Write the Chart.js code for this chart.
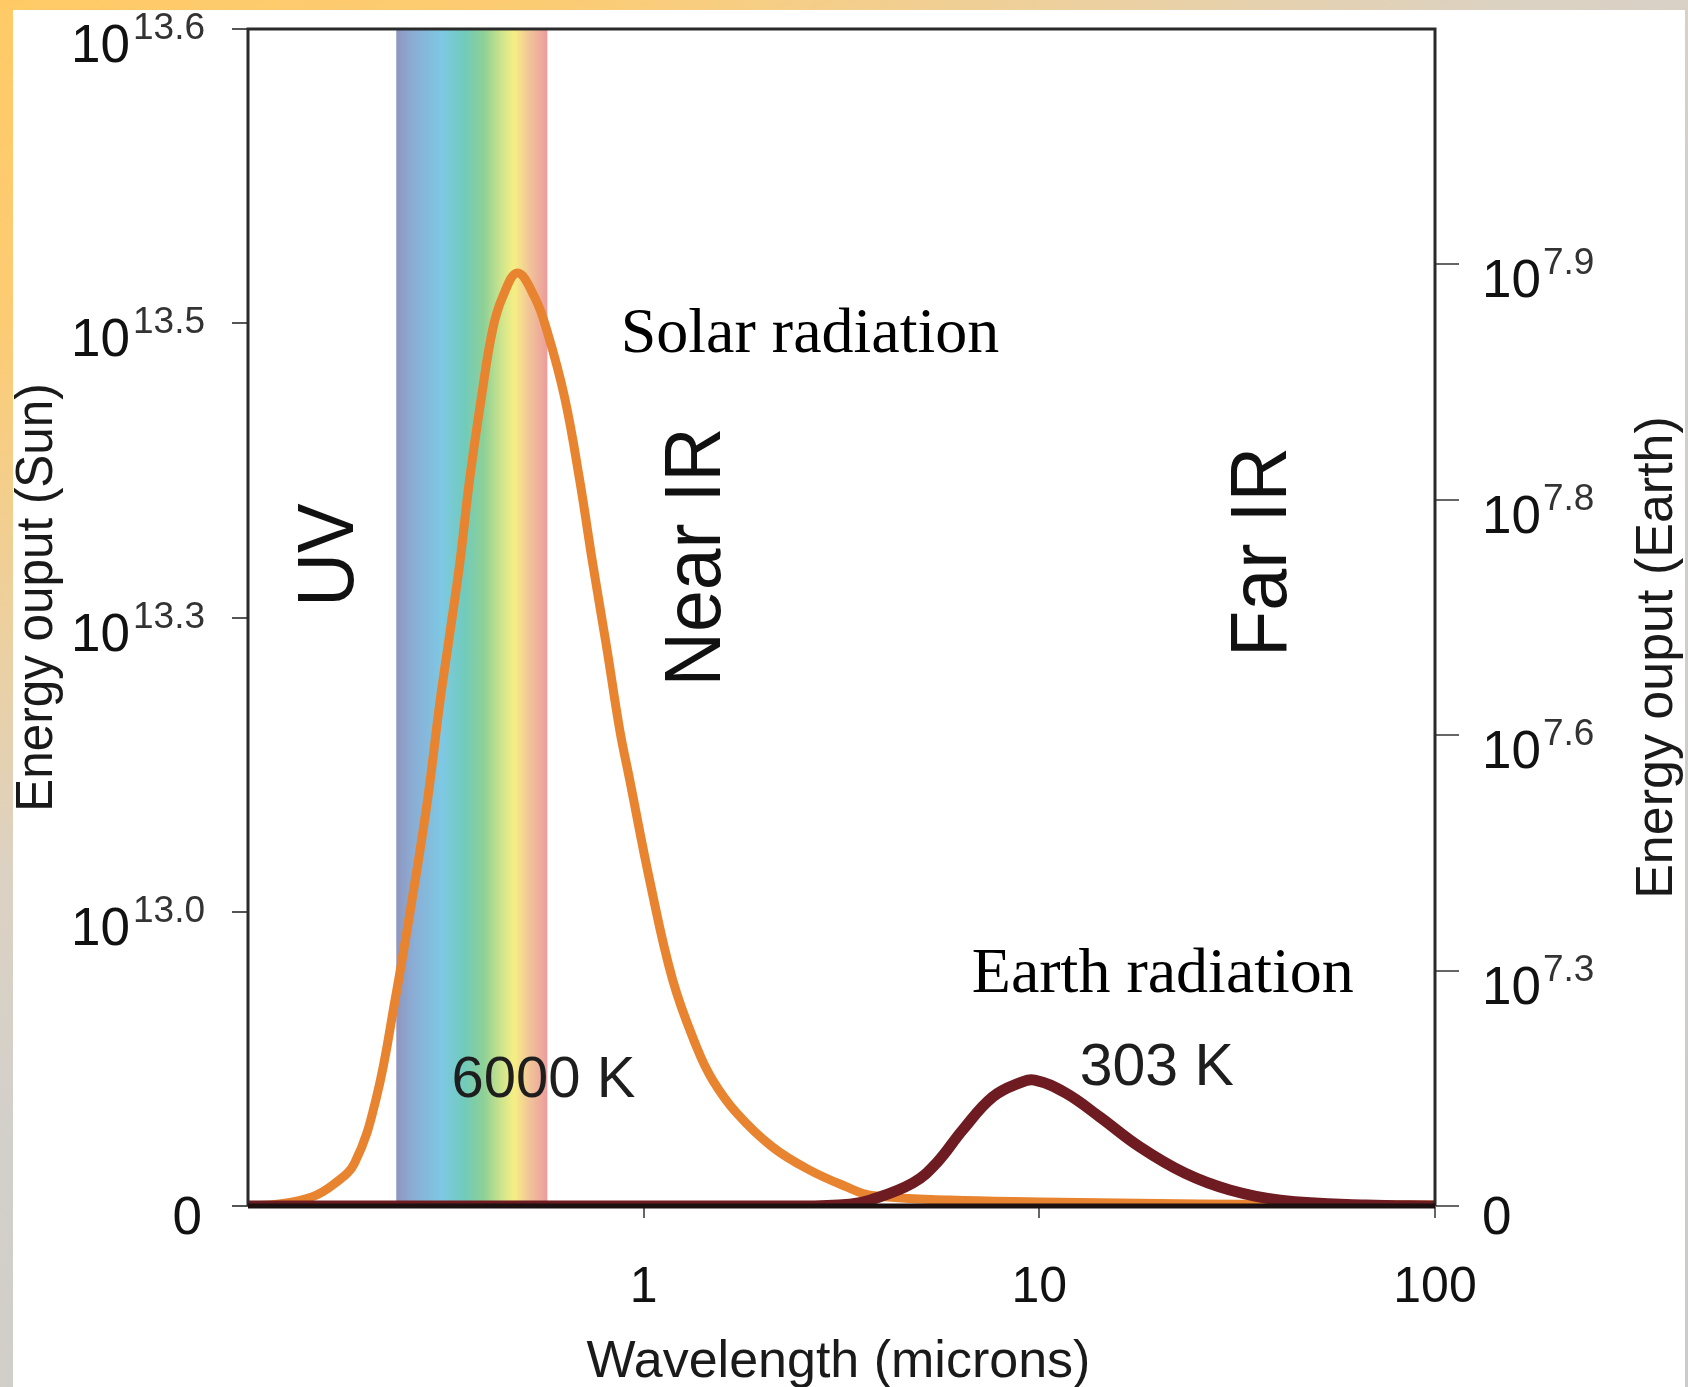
<!DOCTYPE html>
<html>
<head>
<meta charset="utf-8">
<script src="https://cdn.jsdelivr.net/npm/chart.js@4/dist/chart.umd.min.js"></script>
<style>
html,body{margin:0;padding:0;}
body{width:1688px;height:1387px;overflow:hidden;position:relative;
  background:linear-gradient(150deg,#ffca66 0%,#fccc74 14%,#ecd0a0 27%,#dcd2c2 37%,#d3cfca 48%,#cdcbc9 100%);}
#panel{position:absolute;left:13px;top:10px;width:1672px;height:1377px;background:#fff;overflow:hidden;}
canvas{display:block;}
</style>
</head>
<body>
<div id="panel"><canvas id="c" width="1672" height="1377"></canvas></div>
<script>
// ---- data (wavelength in microns, output in axis step units) ----
const wavelengthsSun = [0.1, 0.12, 0.145, 0.165, 0.186, 0.211, 0.236, 0.259, 0.284, 0.306, 0.32, 0.343, 0.363, 0.389, 0.415, 0.44, 0.48, 0.53, 0.569, 0.631, 0.689, 0.743, 0.806, 0.87, 0.922, 1.035, 1.184, 1.361, 1.494, 1.718, 2.118, 2.628, 3.26, 3.73, 5.94, 10, 25.4, 100];
const sunOutput      = [0, 0.007, 0.031, 0.075, 0.146, 0.367, 0.71, 1.03, 1.376, 1.72, 1.9, 2.185, 2.467, 2.749, 2.977, 3.089, 3.171, 3.089, 2.977, 2.749, 2.467, 2.185, 1.9, 1.618, 1.448, 1.108, 0.768, 0.54, 0.428, 0.316, 0.2, 0.122, 0.065, 0.037, 0.02, 0.014, 0.007, 0.003];
const wavelengthsEarth = [0.1, 2.5, 3.32, 3.73, 4.79, 5.5, 6.4, 7.62, 8.92, 9.73, 11.66, 14.22, 17.94, 23.3, 30.3, 40.7, 66.8, 100];
const earthOutput      = [0, 0, 0.008, 0.025, 0.098, 0.183, 0.323, 0.463, 0.523, 0.535, 0.48, 0.378, 0.251, 0.14, 0.068, 0.025, 0.004, 0];
const visibleBand = [0.237, 0.571];
const sunTickExponents = ['', '13.0', '13.3', '13.5', '13.6'];
const earthTickExponents = ['', '7.3', '7.6', '7.8', '7.9'];
const xTickValues = [1, 10, 100];
const xTickLabels = ['1', '10', '100'];

const SANS = '"Liberation Sans", Arial, Helvetica, sans-serif';
const SERIF = '"Liberation Serif", "Times New Roman", serif';

const annotations = [
  {text:'Solar radiation', x:0.875, y:2.902, font:'64px ' + SERIF, color:'#000', align:'left'},
  {text:'Earth radiation', x:6.75, y:0.727, font:'64px ' + SERIF, color:'#000', align:'left'},
  {text:'6000 K', x:0.327, y:0.370, font:'58px ' + SANS, color:'#1e1e1e', align:'left'},
  {text:'303 K', x:12.65, y:0.411, font:'59px ' + SANS, color:'#1e1e1e', align:'left'},
  {text:'UV', x:0.1838, y:2.212, font:'80px ' + SANS, color:'#111', align:'center', rotate:true, s:0.93},
  {text:'Near IR', x:1.556, y:2.206, font:'80px ' + SANS, color:'#111', align:'center', rotate:true, s:0.94},
  {text:'Far IR', x:41.97, y:2.223, font:'80px ' + SANS, color:'#111', align:'center', rotate:true, s:0.945}
];

function txt(ctx, s, px, py, o) {
  ctx.save();
  ctx.translate(px, py);
  if (o.rotate) ctx.rotate(-Math.PI / 2);
  ctx.scale(o.sx || 1, 1);
  ctx.font = o.font;
  ctx.fillStyle = o.color || '#111';
  ctx.textAlign = o.align || 'left';
  ctx.textBaseline = 'alphabetic';
  ctx.fillText(s, 0, 0);
  ctx.restore();
}

const bandPlugin = {
  id: 'band',
  beforeDatasetsDraw(chart) {
    const {ctx, chartArea: a, scales: {x}} = chart;
    const x0 = x.getPixelForValue(visibleBand[0]);
    const x1 = x.getPixelForValue(visibleBand[1]);
    const g = ctx.createLinearGradient(x0, 0, x1, 0);
    g.addColorStop(0.00, '#8f96c0');
    g.addColorStop(0.12, '#8aaed6');
    g.addColorStop(0.30, '#7ec8e4');
    g.addColorStop(0.45, '#70cbbc');
    g.addColorStop(0.58, '#8ed096');
    g.addColorStop(0.70, '#d0e58c');
    g.addColorStop(0.78, '#f6ef84');
    g.addColorStop(0.88, '#f1c598');
    g.addColorStop(1.00, '#ec9c9c');
    ctx.save();
    ctx.fillStyle = g;
    ctx.fillRect(x0, a.top, x1 - x0, a.bottom - a.top);
    ctx.restore();
  }
};

const framePlugin = {
  id: 'frame',
  afterDatasetsDraw(chart) {
    const {ctx, chartArea: a, scales: {y}} = chart;
    ctx.save();
    ctx.strokeStyle = '#2a2a2a';
    ctx.lineWidth = 3;
    ctx.beginPath();
    ctx.moveTo(a.left, a.bottom);
    ctx.lineTo(a.left, a.top);
    ctx.lineTo(a.right, a.top);
    ctx.lineTo(a.right, a.bottom);
    ctx.stroke();
    const y0 = y.getPixelForValue(0);
    ctx.strokeStyle = '#1c1010';
    ctx.lineWidth = 5;
    ctx.beginPath();
    ctx.moveTo(a.left, y0);
    ctx.lineTo(a.right, y0);
    ctx.stroke();
    ctx.restore();
  }
};

const labelPlugin = {
  id: 'labels',
  afterDraw(chart) {
    const {ctx, chartArea: a, scales: {x, y, y2}} = chart;
    const baseFont = '53px ' + SANS, supFont = '37px ' + SANS;
    // left axis tick labels
    sunTickExponents.forEach((e, i) => {
      const ty = y.getPixelForValue(i);
      if (!e) { txt(ctx, '0', a.left - 46, ty + 28, {font: baseFont, align: 'right'}); return; }
      ctx.font = supFont;
      const sw = ctx.measureText(e).width;
      const xEnd = a.left - 43;
      txt(ctx, e, xEnd - sw, ty + 10, {font: supFont, align: 'left', color: '#333'});
      txt(ctx, '10', xEnd - sw - 3, ty + 33, {font: baseFont, align: 'right'});
    });
    // right axis tick labels
    earthTickExponents.forEach((e, i) => {
      const ty = y2.getPixelForValue(i);
      const x0 = a.right + 47;
      if (!e) { txt(ctx, '0', x0, ty + 28, {font: baseFont, align: 'left'}); return; }
      ctx.font = baseFont;
      const bw = ctx.measureText('10').width;
      txt(ctx, '10', x0, ty + 33, {font: baseFont, align: 'left'});
      txt(ctx, e, x0 + bw + 2, ty + 10, {font: supFont, align: 'left', color: '#333'});
    });
    // x tick labels
    xTickValues.forEach((v, i) => {
      txt(ctx, xTickLabels[i], x.getPixelForValue(v), a.bottom + 96, {font: '50px ' + SANS, align: 'center'});
    });
    // axis titles
    txt(ctx, 'Wavelength (microns)', (a.left + a.right) / 2 - 3, a.bottom + 171, {font: '52px ' + SANS, align: 'center', color: '#1a1a1a'});
    txt(ctx, 'Energy ouput (Sun)', a.left - 196, (a.top + a.bottom) / 2 - 20, {font: '52px ' + SANS, align: 'center', rotate: true, sx: 0.95, color: '#1a1a1a'});
    txt(ctx, 'Energy ouput (Earth)', a.right + 237, (a.top + a.bottom) / 2 + 40, {font: '52px ' + SANS, align: 'center', rotate: true, color: '#1a1a1a'});
    // annotations placed through the scales
    annotations.forEach(n => {
      const px = x.getPixelForValue(n.x), py = y.getPixelForValue(n.y);
      txt(ctx, n.text, px, py, {font: n.font, color: n.color, align: n.align, rotate: n.rotate, sx: n.s});
    });
  }
};

const sunPoints = wavelengthsSun.map((w, i) => ({x: w, y: sunOutput[i]}));
const earthPoints = wavelengthsEarth.map((w, i) => ({x: w, y: earthOutput[i]}));

new Chart(document.getElementById('c').getContext('2d'), {
  type: 'line',
  data: {
    datasets: [
      {label: 'Earth radiation (303 K)', data: earthPoints, yAxisID: 'y2', borderColor: '#6e1c21', borderWidth: 11,
       pointRadius: 0, tension: 0.4, fill: false, order: 0, borderJoinStyle: 'round', borderCapStyle: 'round'},
      {label: 'Solar radiation (6000 K)', data: sunPoints, yAxisID: 'y', borderColor: '#e8832f', borderWidth: 9,
       pointRadius: 0, tension: 0.4, fill: false, order: 1, borderJoinStyle: 'round', borderCapStyle: 'round'}
    ]
  },
  options: {
    responsive: false, animation: false, devicePixelRatio: 1,
    layout: {padding: {top: 19, left: 0, right: 0, bottom: 0}},
    plugins: {legend: {display: false}, tooltip: {enabled: false}},
    scales: {
      x: {type: 'logarithmic', position: 'bottom', min: 0.1, max: 100,
          afterBuildTicks: s => { s.ticks = xTickValues.map(v => ({value: v})); },
          afterFit: s => { s.height = 181; },
          ticks: {display: false},
          grid: {drawOnChartArea: false, drawTicks: true, tickLength: 12, color: '#666', lineWidth: 2},
          border: {display: false}},
      y: {type: 'linear', position: 'left', min: 0, max: 4,
          afterBuildTicks: s => { s.ticks = sunTickExponents.map((_, i) => ({value: i})); },
          afterFit: s => { s.width = 235; },
          ticks: {display: false},
          grid: {drawOnChartArea: false, drawTicks: true, tickLength: 16, color: '#555', lineWidth: 2},
          border: {display: false}},
      y2: {type: 'linear', position: 'right', min: 0, max: 5,
          afterBuildTicks: s => { s.ticks = earthTickExponents.map((_, i) => ({value: i})); },
          afterFit: s => { s.width = 250; },
          ticks: {display: false},
          grid: {drawOnChartArea: false, drawTicks: true, tickLength: 24, color: '#666', lineWidth: 2},
          border: {display: false}}
    }
  },
  plugins: [bandPlugin, framePlugin, labelPlugin]
});
</script>
</body>
</html>
